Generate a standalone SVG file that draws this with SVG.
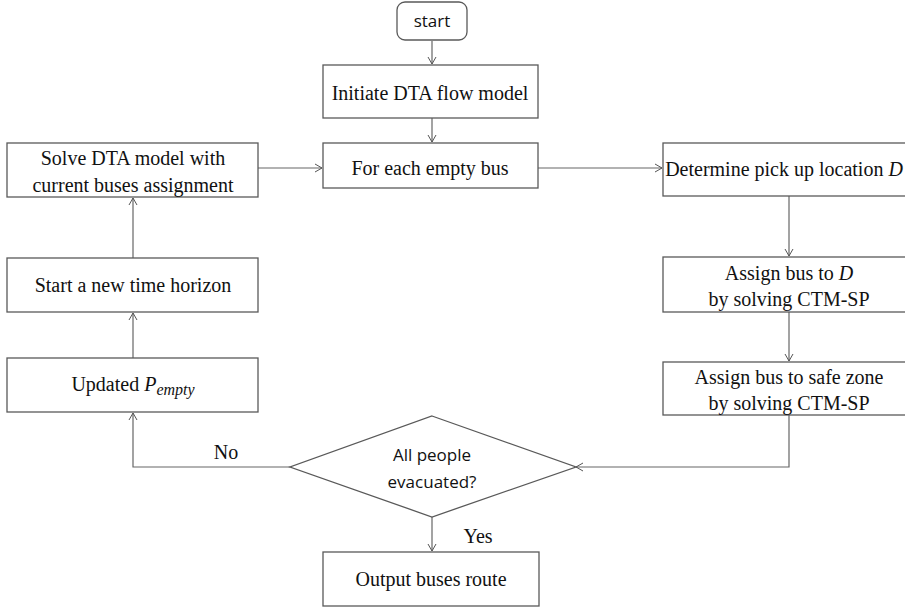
<svg xmlns="http://www.w3.org/2000/svg" width="905" height="607" viewBox="0 0 905 607">
<defs>
<marker id="ah" markerWidth="10" markerHeight="10" refX="8" refY="5" orient="auto" markerUnits="userSpaceOnUse">
<path d="M1,1 L8,5 L1,9" fill="none" stroke="#555" stroke-width="1"/>
</marker>
<style>
.box{fill:#fff;stroke:#595959;stroke-width:1.3}
.t{font-family:"Liberation Serif","Times New Roman",serif;font-size:20px;fill:#111;text-anchor:middle}
.s{font-family:"Open Sans","Liberation Sans",sans-serif;font-size:17px;fill:#111;text-anchor:middle}
.c{fill:none;stroke:#666;stroke-width:1.2;marker-end:url(#ah)}
.l{fill:none;stroke:#666;stroke-width:1.2}
</style>
</defs>
<rect width="905" height="607" fill="#fff"/>
<g id="connectors">
<path class="c" d="M432,41 V64"/>
<path class="c" d="M432,118 V142"/>
<path class="c" d="M258,168 H322"/>
<path class="c" d="M538,168 H662"/>
<path class="c" d="M789,196 V256"/>
<path class="c" d="M789,312 V361"/>
<path class="c" d="M789,415 V467 H576"/>
<path class="c" d="M290,467 H133 V413"/>
<path class="c" d="M133,358 V313"/>
<path class="c" d="M133,258 V198"/>
<path class="c" d="M432,517 V551"/>
</g>
<g id="start">
<rect class="box" x="397" y="2" width="70" height="38" rx="8"/>
<text class="s" x="432" y="27">start</text>
</g>
<g id="initiate">
<rect class="box" x="323" y="65" width="215" height="53"/>
<text class="t" x="430" y="100">Initiate DTA flow model</text>
</g>
<g id="foreach">
<rect class="box" x="323" y="143" width="215" height="45"/>
<text class="t" x="430" y="175">For each empty bus</text>
</g>
<g id="solve">
<rect class="box" x="7" y="143" width="251" height="54"/>
<text class="t" x="133" y="165">Solve DTA model with</text>
<text class="t" x="133" y="192">current buses assignment</text>
</g>
<g id="newhorizon">
<rect class="box" x="7" y="258" width="251" height="54"/>
<text class="t" x="133" y="292">Start a new time horizon</text>
</g>
<g id="updated">
<rect class="box" x="7" y="358" width="251" height="54"/>
<text class="t" x="133" y="391">Updated <tspan font-style="italic">P</tspan><tspan font-style="italic" font-size="16" dy="4">empty</tspan></text>
</g>
<g id="determine">
<rect class="box" x="663" y="143" width="252" height="53"/>
<text class="t" x="784" y="176">Determine pick up location <tspan font-style="italic">D</tspan></text>
</g>
<g id="assignD">
<rect class="box" x="663" y="257" width="252" height="55"/>
<text class="t" x="789" y="280">Assign bus to <tspan font-style="italic">D</tspan></text>
<text class="t" x="789" y="306">by solving CTM-SP</text>
</g>
<g id="assignSafe">
<rect class="box" x="663" y="362" width="252" height="53"/>
<text class="t" x="789" y="384">Assign bus to safe zone</text>
<text class="t" x="789" y="410">by solving CTM-SP</text>
</g>
<g id="decision">
<polygon class="box" points="432,416 576,467 432,517 290,467"/>
<text class="s" x="432" y="461">All people</text>
<text class="s" x="432" y="488">evacuated?</text>
</g>
<text class="t" x="226" y="459">No</text>
<text class="t" x="478" y="543">Yes</text>
<g id="output">
<rect class="box" x="323" y="552" width="216" height="54"/>
<text class="t" x="431" y="586">Output buses route</text>
</g>
</svg>
